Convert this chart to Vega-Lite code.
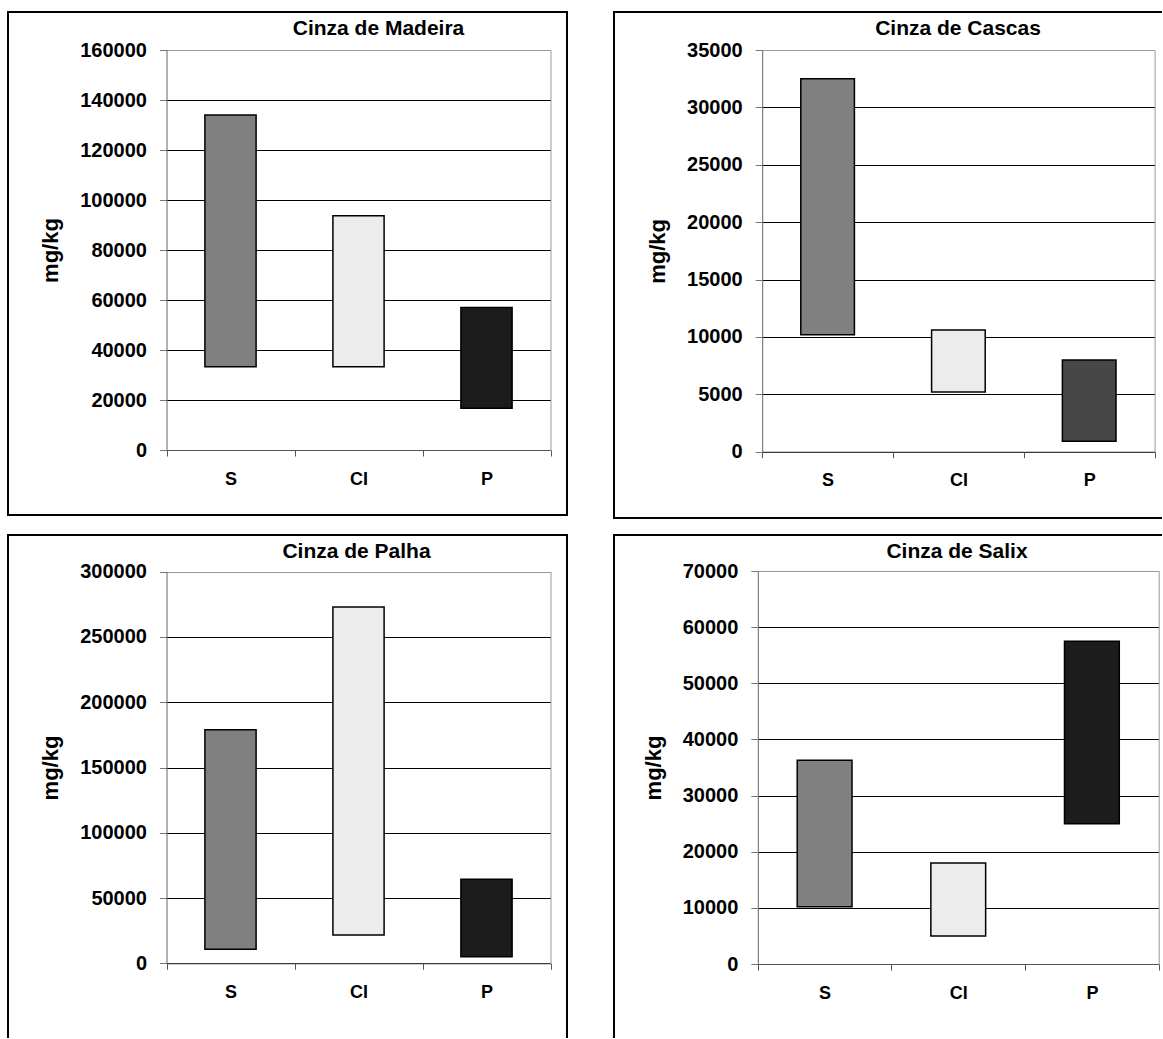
{
  "$schema": "https://vega.github.io/schema/vega-lite/v6.json",
  "padding": {"left": 7, "top": 11, "right": 0, "bottom": 0},
  "autosize": {"type": "pad"},
  "background": "white",
  "config": {
    "view": {"stroke": "black", "strokeWidth": 2},
    "title": {"font": "Liberation Sans", "fontSize": 21, "fontWeight": "bold", "color": "black", "frame": "group", "anchor": "middle", "offset": -27, "baseline": "alphabetic"},
    "axis": {
      "labelFont": "Liberation Sans", "labelFontWeight": "bold", "labelColor": "black",
      "titleFont": "Liberation Sans", "titleFontWeight": "bold", "titleColor": "black",
      "labelFlush": false, "labelOverlap": false
    },
    "axisX": {"labelFontSize": 18, "labelAngle": 0, "tickBand": "extent", "tickSize": 6, "tickColor": "#555555", "domainColor": "#555555", "labelPadding": 14, "grid": false, "title": null},
    "axisY": {"labelFontSize": 20, "tickSize": 7, "tickColor": "#777777", "domainColor": "#666666", "labelPadding": 13, "titleFontSize": 22, "titlePadding": 17, "format": "d", "gridColor": "black", "gridWidth": 1},
    "bar": {"stroke": "black", "strokeWidth": 1.5, "width": {"band": 0.4}}
  },
  "columns": 2,
  "spacing": {"row": 17, "column": 47},
  "bounds": "flush",
  "resolve": {"scale": {"color": "independent"}},
  "concat": [
    {
      "width": 559, "height": 503,
      "title": {"text": "Cinza de Madeira", "dx": 91},
      "data": {"values": [
        {"tipo": "S", "min": 33300, "max": 134000},
        {"tipo": "CI", "min": 33300, "max": 93700},
        {"tipo": "P", "min": 16700, "max": 57000}
      ]},
      "encoding": {
        "x": {"field": "tipo", "type": "nominal", "sort": ["S", "CI", "P"],
              "scale": {"domain": ["S", "CI", "P"], "range": [158.5, 542.5], "paddingInner": 0, "paddingOuter": 0},
              "axis": {"offset": -65}},
        "y": {"field": "min", "type": "quantitative",
              "scale": {"domain": [0, 160000], "range": [438, 38], "nice": false, "zero": true},
              "axis": {"offset": -158.5, "title": "mg/kg", "values": [0, 20000, 40000, 60000, 80000, 100000, 120000, 140000, 160000],
                       "gridColor": {"condition": {"test": "datum.value >= 160000", "value": "#999999"}, "value": "black"}}},
        "y2": {"field": "max"}
      },
      "layer": [
        {"mark": {"type": "bar"},
         "encoding": {"color": {"field": "tipo", "type": "nominal", "scale": {"domain": ["S", "CI", "P"], "range": ["#808080", "#ececec", "#1c1c1c"]}, "legend": null}}},
        {"mark": {"type": "bar", "opacity": 0},
         "encoding": {"y": {"field": "min", "type": "quantitative",
                            "axis": {"orient": "right", "offset": -16.5, "labels": false, "ticks": false, "grid": false, "title": null, "domainColor": "#999999"}}}}
      ],
      "resolve": {"axis": {"y": "independent"}}
    },
    {
      "width": 548, "height": 506,
      "view": {"strokeDash": [548, 506, 1054]},
      "title": {"text": "Cinza de Cascas", "dx": 70},
      "data": {"values": [
        {"tipo": "S", "min": 10200, "max": 32500},
        {"tipo": "CI", "min": 5200, "max": 10600},
        {"tipo": "P", "min": 900, "max": 8000}
      ]},
      "encoding": {
        "x": {"field": "tipo", "type": "nominal", "sort": ["S", "CI", "P"],
              "scale": {"domain": ["S", "CI", "P"], "range": [148.2, 540.6], "paddingInner": 0, "paddingOuter": 0},
              "axis": {"offset": -66.3}},
        "y": {"field": "min", "type": "quantitative",
              "scale": {"domain": [0, 35000], "range": [439.7, 38], "nice": false, "zero": true},
              "axis": {"offset": -148.2, "title": "mg/kg", "values": [0, 5000, 10000, 15000, 20000, 25000, 30000, 35000],
                       "gridColor": {"condition": {"test": "datum.value >= 35000", "value": "#999999"}, "value": "black"}}},
        "y2": {"field": "max"}
      },
      "layer": [
        {"mark": {"type": "bar", "width": {"band": 0.41}},
         "encoding": {"color": {"field": "tipo", "type": "nominal", "scale": {"domain": ["S", "CI", "P"], "range": ["#808080", "#ececec", "#474747"]}, "legend": null}}},
        {"mark": {"type": "bar", "opacity": 0},
         "encoding": {"y": {"field": "min", "type": "quantitative",
                            "axis": {"orient": "right", "offset": -7.4, "labels": false, "ticks": false, "grid": false, "title": null, "domainColor": "#999999"}}}}
      ],
      "resolve": {"axis": {"y": "independent"}}
    },
    {
      "width": 559, "height": 503,
      "view": {"strokeDash": [1062, 559, 503]},
      "title": {"text": "Cinza de Palha", "dx": 69},
      "data": {"values": [
        {"tipo": "S", "min": 10700, "max": 179000},
        {"tipo": "CI", "min": 21700, "max": 273000},
        {"tipo": "P", "min": 5100, "max": 64300}
      ]},
      "encoding": {
        "x": {"field": "tipo", "type": "nominal", "sort": ["S", "CI", "P"],
              "scale": {"domain": ["S", "CI", "P"], "range": [158.5, 542.5], "paddingInner": 0, "paddingOuter": 0},
              "axis": {"offset": -74.7}},
        "y": {"field": "min", "type": "quantitative",
              "scale": {"domain": [0, 300000], "range": [428.3, 36.7], "nice": false, "zero": true},
              "axis": {"offset": -158.5, "title": "mg/kg", "values": [0, 50000, 100000, 150000, 200000, 250000, 300000],
                       "gridColor": {"condition": {"test": "datum.value >= 300000", "value": "#999999"}, "value": "black"}}},
        "y2": {"field": "max"}
      },
      "layer": [
        {"mark": {"type": "bar"},
         "encoding": {"color": {"field": "tipo", "type": "nominal", "scale": {"domain": ["S", "CI", "P"], "range": ["#808080", "#ececec", "#1c1c1c"]}, "legend": null}}},
        {"mark": {"type": "bar", "opacity": 0},
         "encoding": {"y": {"field": "min", "type": "quantitative",
                            "axis": {"orient": "right", "offset": -16.5, "labels": false, "ticks": false, "grid": false, "title": null, "domainColor": "#999999"}}}}
      ],
      "resolve": {"axis": {"y": "independent"}}
    },
    {
      "width": 548, "height": 503,
      "view": {"strokeDash": [548, 1051, 503]},
      "title": {"text": "Cinza de Salix", "dx": 69},
      "data": {"values": [
        {"tipo": "S", "min": 10200, "max": 36300},
        {"tipo": "CI", "min": 5000, "max": 18000},
        {"tipo": "P", "min": 25000, "max": 57500}
      ]},
      "encoding": {
        "x": {"field": "tipo", "type": "nominal", "sort": ["S", "CI", "P"],
              "scale": {"domain": ["S", "CI", "P"], "range": [143.8, 544.7], "paddingInner": 0, "paddingOuter": 0},
              "axis": {"offset": -74}},
        "y": {"field": "min", "type": "quantitative",
              "scale": {"domain": [0, 70000], "range": [429, 36], "nice": false, "zero": true},
              "axis": {"offset": -143.8, "title": "mg/kg", "values": [0, 10000, 20000, 30000, 40000, 50000, 60000, 70000],
                       "gridColor": {"condition": {"test": "datum.value >= 70000", "value": "#999999"}, "value": "black"}}},
        "y2": {"field": "max"}
      },
      "layer": [
        {"mark": {"type": "bar", "width": {"band": 0.41}},
         "encoding": {"color": {"field": "tipo", "type": "nominal", "scale": {"domain": ["S", "CI", "P"], "range": ["#808080", "#ececec", "#1c1c1c"]}, "legend": null}}},
        {"mark": {"type": "bar", "opacity": 0},
         "encoding": {"y": {"field": "min", "type": "quantitative",
                            "axis": {"orient": "right", "offset": -3.3, "labels": false, "ticks": false, "grid": false, "title": null, "domainColor": "#999999"}}}}
      ],
      "resolve": {"axis": {"y": "independent"}}
    }
  ]
}
